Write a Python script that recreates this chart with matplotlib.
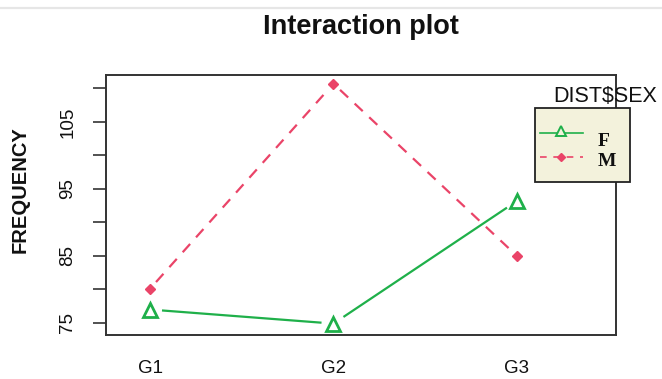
import matplotlib
matplotlib.use("Agg")
import matplotlib.pyplot as plt
import numpy as np
from matplotlib.lines import Line2D
from matplotlib.patches import Rectangle
from matplotlib.transforms import Affine2D

# Mean frequency per group, split by sex
groups = ["G1", "G2", "G3"]
freq_f = [77.0, 74.9, 93.2]
freq_m = [80.1, 110.7, 85.0]
legend_title = "DIST$SEX"
series_labels = ["F", "M"]
yticks_major = [75, 85, 95, 105]
yticks_minor = [80, 90, 100, 110]

GREEN = "#1fb04a"
PINK = "#ea4468"
FRAME = "#333333"

W, H = 662, 379
fig = plt.figure(figsize=(W / 100, H / 100), dpi=100)
plt.rcParams["font.family"] = ["Liberation Sans", "DejaVu Sans"]

ax = fig.add_axes([106 / W, 44 / H, 510 / W, 260 / H])
x = np.arange(1, len(groups) + 1)
ax.set_xlim(0.76, 3.54)
ax.set_ylim(73.2, 112.0)

for s in ax.spines.values():
    s.set_color(FRAME)
    s.set_linewidth(1.4)

# y axis: ticks every 5, labels every 10
all_ticks = sorted(yticks_major + yticks_minor)
ax.set_yticks(all_ticks)
ax.set_yticklabels([str(v) if v in yticks_major else "" for v in all_ticks],
                   rotation=90, va="center", fontsize=13.5)
ax.tick_params(axis="y", length=9.5, width=1.2, color=FRAME, pad=12, labelcolor="#111111")
ax.set_xticks(x)
ax.set_xticklabels(groups, fontsize=13.5)
ax.tick_params(axis="x", length=0, pad=18, labelcolor="#111111")


def gapped_line(xs, ys, gap_px, **kw):
    """Connect points with segments that stop short of each marker."""
    pts = ax.transData.transform(np.column_stack([xs, ys]))
    inv = ax.transData.inverted()
    for p0, p1 in zip(pts[:-1], pts[1:]):
        d = p1 - p0
        u = d / np.hypot(*d)
        a = inv.transform(p0 + u * gap_px)
        b = inv.transform(p1 - u * gap_px)
        ax.plot([a[0], b[0]], [a[1], b[1]], solid_capstyle="butt", **kw)


gapped_line(x, freq_f, 12, color=GREEN, lw=1.6)
gapped_line(x, freq_m, 9, color=PINK, lw=1.6, linestyle=(0, (5, 4)))
ax.plot(x, freq_f, linestyle="none", marker="^", ms=10, mfc="none", mec=GREEN, mew=2)
ax.plot(x, freq_m, linestyle="none", marker="D", ms=5.5, mfc=PINK, mec=PINK)

# titles
fig.text(361 / W, 1 - 27 / H, "Interaction plot", ha="center", va="center",
         fontsize=19.5, fontweight="bold", color="#111111")
fig.text(20 / W, 1 - 190 / H, "FREQUENCY", ha="center", va="center", rotation=90,
         fontsize=14.5, fontweight="bold", color="#111111")

# light rule at the top
fig.add_artist(Line2D([0, 1], [1 - 8 / H, 1 - 8 / H], transform=fig.transFigure,
                      color="#e6e6e6", lw=1.6))

# legend, drawn in pixel coordinates measured from the top-left corner
px = Affine2D().scale(1 / W, -1 / H).translate(0, 1) + fig.transFigure
fig.text(553 / W, 1 - 97 / H, legend_title, ha="left", va="center", fontsize=15.5, color="#111111")
fig.add_artist(Rectangle((535, 182), 95, -74, transform=px, facecolor="#f3f2dc",
                         edgecolor="#222222", lw=1.3, zorder=5))
fig.add_artist(Line2D([540, 583], [133, 133], transform=px, color=GREEN, lw=1.2, zorder=6))
fig.add_artist(Line2D([561], [131], transform=px, marker="^", ms=7, mfc="#f3f2dc",
                      mec=GREEN, mew=1.4, linestyle="none", zorder=7))
fig.add_artist(Line2D([540, 583], [157, 157], transform=px, color=PINK, lw=1.2,
                      linestyle=(0, (4, 4)), zorder=6))
fig.add_artist(Line2D([561], [157], transform=px, marker="D", ms=4.5, mfc=PINK,
                      mec=PINK, linestyle="none", zorder=7))
for lab, yy in zip(series_labels, [141.5, 161.5]):
    fig.text(598 / W, 1 - yy / H, lab, ha="left", va="center", fontsize=14,
             fontweight="bold", family=["Liberation Serif", "DejaVu Serif"],
             color="#111111", zorder=8)

fig.savefig("out.png", dpi=100)
